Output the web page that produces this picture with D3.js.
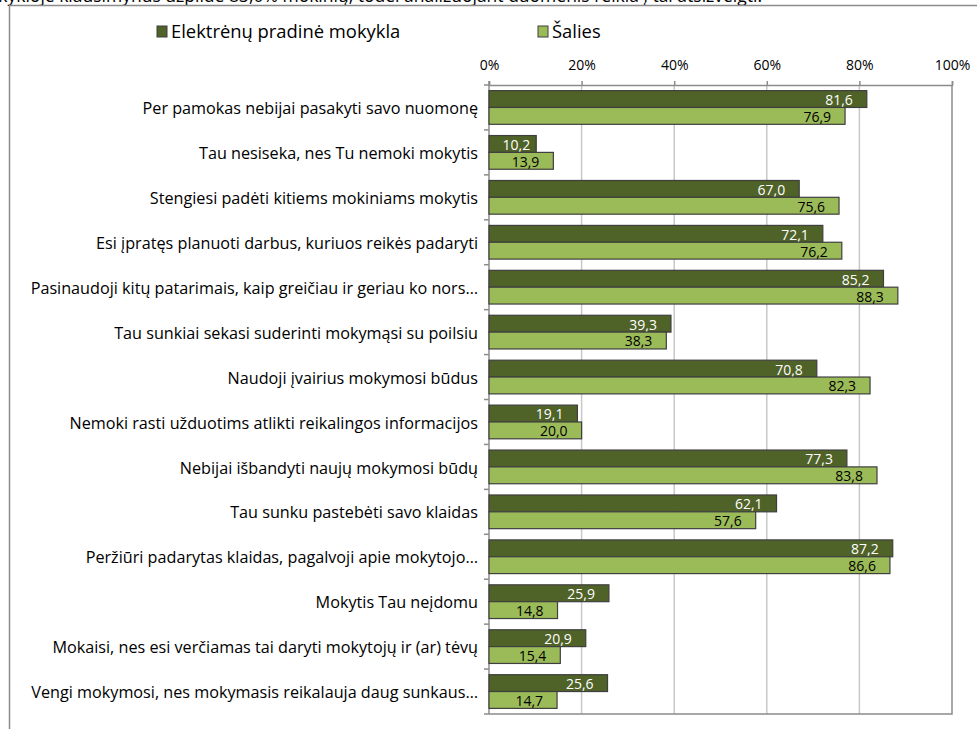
<!DOCTYPE html>
<html>
<head>
<meta charset="utf-8">
<script src="https://cdn.jsdelivr.net/npm/d3@7"></script>
<style>
  body { margin: 0; background: #fff; }
  svg { display: block; font-family: "Open Sans", "Noto Sans", sans-serif; }
</style>
</head>
<body>
<svg id="chart"></svg>
<script>
// Data
const categories = [
  "Per pamokas nebijai pasakyti savo nuomonę",
  "Tau nesiseka, nes Tu nemoki mokytis",
  "Stengiesi padėti kitiems mokiniams mokytis",
  "Esi įpratęs planuoti darbus, kuriuos reikės padaryti",
  "Pasinaudoji kitų patarimais, kaip greičiau ir geriau ko nors…",
  "Tau sunkiai sekasi suderinti mokymąsi su poilsiu",
  "Naudoji įvairius mokymosi būdus",
  "Nemoki rasti užduotims atlikti reikalingos informacijos",
  "Nebijai išbandyti naujų mokymosi būdų",
  "Tau sunku pastebėti savo klaidas",
  "Peržiūri padarytas klaidas, pagalvoji apie mokytojo…",
  "Mokytis Tau neįdomu",
  "Mokaisi, nes esi verčiamas tai daryti mokytojų ir (ar) tėvų",
  "Vengi mokymosi, nes mokymasis reikalauja daug sunkaus…"
];
const schoolValues   = [81.6, 10.2, 67.0, 72.1, 85.2, 39.3, 70.8, 19.1, 77.3, 62.1, 87.2, 25.9, 20.9, 25.6];
const nationalValues = [76.9, 13.9, 75.6, 76.2, 88.3, 38.3, 82.3, 20.0, 83.8, 57.6, 86.6, 14.8, 15.4, 14.7];
const seriesNames = ["Elektrėnų pradinė mokykla", "Šalies"];
const xTicks = [0, 20, 40, 60, 80, 100];
const topNote = "Mokykloje klausimynus užpildė 83,0% mokinių, todėl analizuojant duomenis reikia į tai atsižvelgti.";

// Sizes
const width = 977;
const height = 729;
const plot = {left: 489, right: 952, top: 85, bottom: 714};
const colors = ["#4f6228", "#9bbb59"];
const labelColors = ["#ffffff", "#000000"];

const svg = d3.select("#chart")
    .attr("width", width)
    .attr("height", height);

// Cut-off note above the frame
svg.append("text")
    .attr("x", 762)
    .attr("y", 2)
    .attr("text-anchor", "end")
    .style("font-size", "17.5px")
    .attr("fill", "#000")
    .text(topNote);

// Outer frame (only left and top edges are visible)
svg.append("path")
    .attr("d", `M9.5,${height} V5.5 H${width}`)
    .attr("fill", "none")
    .attr("stroke", "#8c8c8c")
    .attr("stroke-width", 1.5);

// Scales
const x = d3.scaleLinear().domain([0, 100]).range([plot.left, plot.right]);
const y = d3.scaleBand().domain(categories).range([plot.top, plot.bottom]);
const bandH = y.bandwidth();
const barH = bandH * 0.375;
const groupOffset = (bandH - 2 * barH) / 2;

// Gridlines
svg.append("g")
    .selectAll("line")
    .data(xTicks.slice(1, -1))
  .join("line")
    .attr("x1", d => x(d))
    .attr("x2", d => x(d))
    .attr("y1", plot.top)
    .attr("y2", plot.bottom)
    .attr("stroke", "#c8c8c8")
    .attr("stroke-width", 1.5);

// Plot border right and bottom
svg.append("path")
    .attr("d", `M${x(100)},${plot.top} V${plot.bottom} H${plot.left}`)
    .attr("fill", "none")
    .attr("stroke", "#8c8c8c")
    .attr("stroke-width", 1.5);

// Top axis
const xAxis = d3.axisTop(x)
    .tickValues(xTicks)
    .tickSize(4)
    .tickPadding(11)
    .tickFormat(d => d + "%");

const gx = svg.append("g")
    .attr("transform", `translate(0,${plot.top})`)
    .call(xAxis);
gx.select(".domain").attr("stroke", "#8c8c8c").attr("stroke-width", 1.5);
gx.selectAll(".tick line").attr("stroke", "#8c8c8c").attr("stroke-width", 1.5);
gx.selectAll(".tick text")
    .style("font-family", "'Open Sans', sans-serif")
    .style("font-size", "14px")
    .attr("fill", "#000");

// Left axis: ticks at category boundaries
const boundaries = categories.map(c => y(c)).concat([plot.bottom]);
svg.append("g")
    .selectAll("line")
    .data(boundaries)
  .join("line")
    .attr("x1", plot.left - 5)
    .attr("x2", plot.left)
    .attr("y1", d => d)
    .attr("y2", d => d)
    .attr("stroke", "#8c8c8c")
    .attr("stroke-width", 1.5);

svg.append("line")
    .attr("x1", plot.left)
    .attr("x2", plot.left)
    .attr("y1", plot.top - 4)
    .attr("y2", plot.bottom)
    .attr("stroke", "#8c8c8c")
    .attr("stroke-width", 1.5);

// Category labels
svg.append("g")
    .selectAll("text")
    .data(categories)
  .join("text")
    .attr("x", plot.left - 11)
    .attr("y", d => y(d) + bandH / 2 + 1)
    .attr("dy", "0.35em")
    .attr("text-anchor", "end")
    .style("font-size", "16.2px")
    .attr("fill", "#000")
    .text(d => d);

// Bars
const series = [schoolValues, nationalValues];
series.forEach((values, s) => {
  const g = svg.append("g");
  const rows = categories.map((c, i) => ({cat: c, value: values[i]}));

  g.selectAll("rect")
      .data(rows)
    .join("rect")
      .attr("x", x(0))
      .attr("y", d => y(d.cat) + groupOffset + s * barH)
      .attr("width", d => x(d.value) - x(0))
      .attr("height", barH)
      .attr("fill", colors[s])
      .attr("stroke", "#3f3f3f")
      .attr("stroke-width", 1.2);

  g.selectAll("text")
      .data(rows)
    .join("text")
      .attr("x", d => {
        const w = x(d.value) - x(0);
        return x(d.value) - (w < 50 ? 6 : 14);
      })
      .attr("y", d => y(d.cat) + groupOffset + s * barH + barH / 2 + 1)
      .attr("dy", "0.35em")
      .attr("text-anchor", "end")
      .style("font-size", "14px")
      .attr("fill", labelColors[s])
      .text(d => d3.format(".1f")(d.value).replace(".", ","));
});

// Legend
const legendX = [157, 538];
const legend = svg.append("g")
    .selectAll("g")
    .data(seriesNames)
  .join("g")
    .attr("transform", (d, i) => `translate(${legendX[i]},26)`);

legend.append("rect")
    .attr("width", 10)
    .attr("height", 11)
    .attr("fill", (d, i) => colors[i])
    .attr("stroke", "#3f3f3f")
    .attr("stroke-width", 1);

legend.append("text")
    .attr("x", 14)
    .attr("y", 6)
    .attr("dy", "0.35em")
    .style("font-size", "18.4px")
    .attr("fill", "#000")
    .text(d => d);
</script>
</body>
</html>
